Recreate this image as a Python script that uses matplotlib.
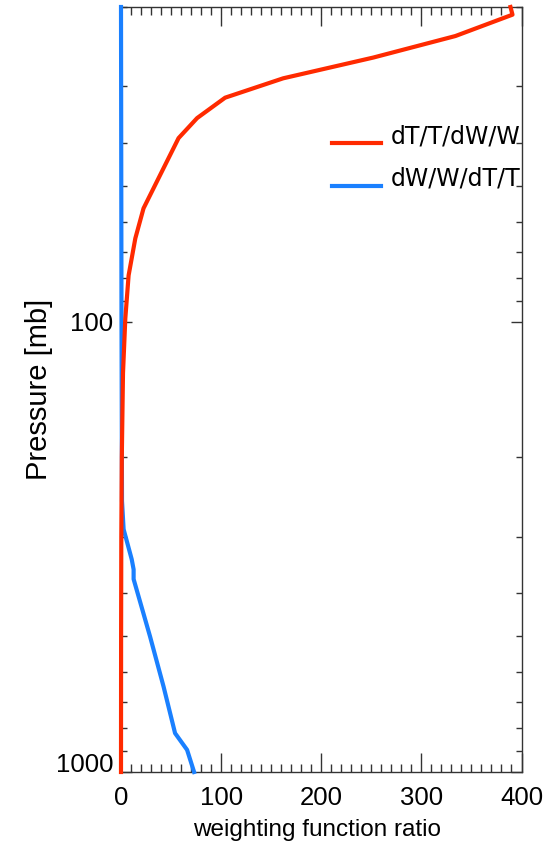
import numpy as np
import matplotlib
matplotlib.use("Agg")
import matplotlib.pyplot as plt
from matplotlib.legend_handler import HandlerLine2D
from matplotlib.ticker import FixedLocator, NullFormatter, FixedFormatter

# Weighting-function ratio profiles versus pressure
p_temp = [20, 20.8, 23.2, 25.9, 28.8, 31.8, 35.3, 39.1, 45.6, 56.0, 65.3, 78.9, 98.4, 130, 200, 300, 500, 1000]
r_temp = [389, 391, 334, 252, 162, 104, 76, 57.5, 42.5, 22.5, 14.3, 7.6, 4.3, 2.0, 0.8, 0.3, 0.1, 0.0]

p_water = [20, 100, 250, 289, 337, 355, 373, 500, 646, 820, 893, 1000]
r_water = [0.0, 0.5, 1.0, 2.6, 10.7, 12.6, 12.6, 29, 42.5, 54, 66, 73]

series_labels = ["dT/T/dW/W", "dW/W/dT/T"]
x_ticks = [0, 100, 200, 300, 400]
y_ticks = [100, 1000]


class BaselineLine(HandlerLine2D):
    """Legend line drawn along the text baseline."""

    def create_artists(self, legend, orig_handle, xdescent, ydescent,
                       width, height, fontsize, trans):
        artists = super().create_artists(legend, orig_handle, xdescent, ydescent,
                                         width, height, fontsize, trans)
        for a in artists:
            y = a.get_ydata()
            a.set_ydata(np.zeros_like(np.asarray(y, dtype=float)))
        return artists


fig = plt.figure(figsize=(5.57, 8.48), dpi=100)
ax = fig.add_axes([121 / 557, 1 - 772 / 848, (521.5 - 121) / 557, (772 - 7) / 848])

red = "#ff2a00"
blue = "#1a80ff"
line_w, = ax.plot(r_water, p_water, color=blue, lw=3.0, label=series_labels[1], zorder=3, clip_on=False)
line_t, = ax.plot(r_temp, p_temp, color=red, lw=3.0, label=series_labels[0], zorder=4, clip_on=False)

ax.set_yscale("log")
ax.set_ylim(1000, 20)
ax.set_xlim(0, 400)

ax.yaxis.set_major_locator(FixedLocator(y_ticks))
ax.yaxis.set_major_formatter(FixedFormatter([str(t) for t in y_ticks]))
ax.yaxis.set_minor_locator(FixedLocator([20, 30, 40, 50, 60, 70, 80, 90, 200, 300, 400, 500, 600, 700, 800, 900]))
ax.yaxis.set_minor_formatter(NullFormatter())
ax.xaxis.set_major_locator(FixedLocator(x_ticks))
ax.xaxis.set_minor_locator(FixedLocator(list(range(10, 400, 10))))

tick_col = "#333333"
ax.tick_params(axis="x", which="major", direction="in", length=14, width=1, color=tick_col,
               top=True, pad=10)
ax.tick_params(axis="x", which="minor", direction="in", length=6, width=1, color=tick_col, top=True)
ax.tick_params(axis="y", which="major", direction="in", length=8, width=1, color=tick_col,
               right=True, pad=5.5)
ax.tick_params(axis="y", which="minor", direction="in", length=4, width=1, color=tick_col, right=True)
for lab in ax.get_xticklabels() + ax.get_yticklabels():
    lab.set_family("Liberation Sans")
    lab.set_fontsize(18.5)
# the bottom pressure label sits on the axis line
ax.get_yticklabels()[1].set_verticalalignment("baseline")
for s in ax.spines.values():
    s.set_color(tick_col)
    s.set_linewidth(1)

ax.set_xlabel("weighting function ratio", family="Liberation Sans", fontsize=17.5)
ax.xaxis.set_label_coords(0.49, -0.062)
ax.set_ylabel("Pressure [mb]", family="Liberation Sans", fontsize=21)
ax.yaxis.set_label_coords(-0.170, 0.5)

leg = ax.legend(handles=[line_t, line_w], loc="upper left", bbox_to_anchor=(0.526, 0.8465),
                frameon=False, prop={"family": "DejaVu Sans", "size": 17},
                handlelength=2.1, handletextpad=0.42, labelspacing=0.78,
                borderpad=0, borderaxespad=0,
                handler_map={line_t: BaselineLine(), line_w: BaselineLine()})

fig.savefig("out.png", dpi=100)
